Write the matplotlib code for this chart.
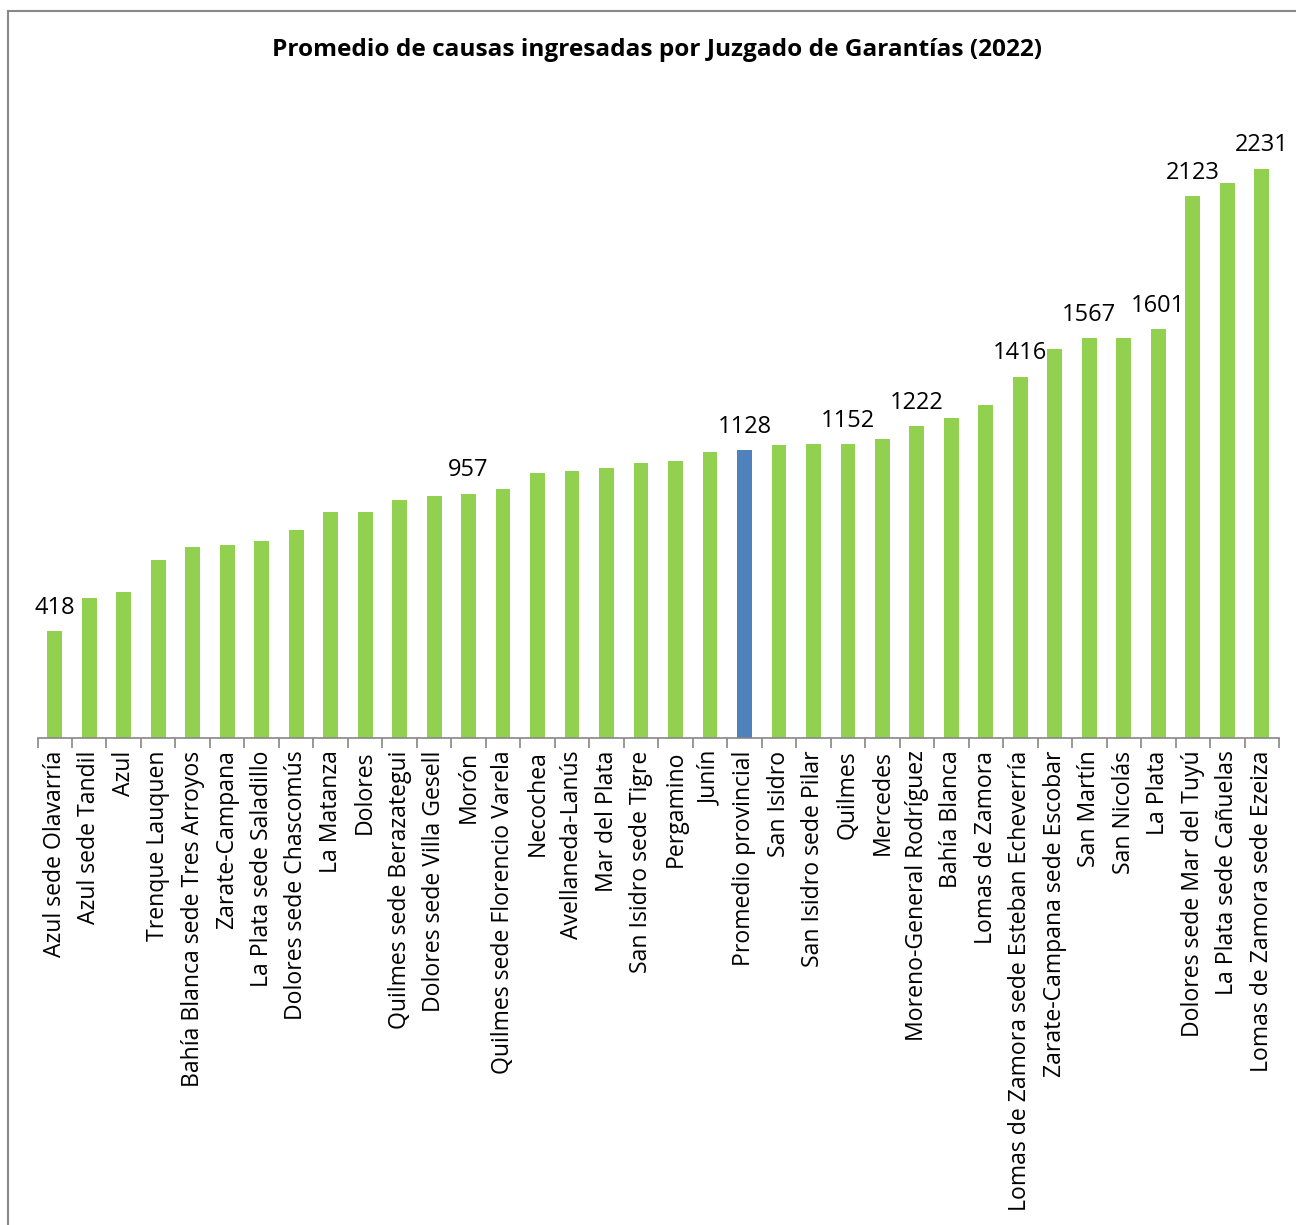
import numpy as np
import matplotlib.pyplot as plt
from matplotlib.patches import Rectangle

plt.rcParams['font.family'] = ['Open Sans', 'DejaVu Sans']

juzgados = [
    'Azul sede Olavarría', 'Azul sede Tandil', 'Azul', 'Trenque Lauquen',
    'Bahía Blanca sede Tres Arroyos', 'Zarate-Campana', 'La Plata sede Saladillo',
    'Dolores sede Chascomús', 'La Matanza', 'Dolores', 'Quilmes sede Berazategui',
    'Dolores sede Villa Gesell', 'Morón', 'Quilmes sede Florencio Varela',
    'Necochea', 'Avellaneda-Lanús', 'Mar del Plata', 'San Isidro sede Tigre',
    'Pergamino', 'Junín', 'Promedio provincial', 'San Isidro',
    'San Isidro sede Pilar', 'Quilmes', 'Mercedes', 'Moreno-General Rodríguez',
    'Bahía Blanca', 'Lomas de Zamora', 'Lomas de Zamora sede Esteban Echeverría',
    'Zarate-Campana sede Escobar', 'San Martín', 'San Nicolás', 'La Plata',
    'Dolores sede Mar del Tuyú', 'La Plata sede Cañuelas',
    'Lomas de Zamora sede Ezeiza',
]
causas = [
    418, 549, 573, 698, 749, 757, 773, 816, 886, 886, 933, 949, 957, 976,
    1039, 1047, 1059, 1078, 1086, 1122, 1128, 1149, 1153, 1152, 1173, 1222,
    1255, 1306, 1416, 1525, 1567, 1567, 1601, 2123, 2176, 2231,
]
# only these bars carry a value label in the original
etiquetados = ['Azul sede Olavarría', 'Morón', 'Promedio provincial', 'Quilmes',
               'Moreno-General Rodríguez', 'Lomas de Zamora sede Esteban Echeverría',
               'San Martín', 'La Plata', 'Dolores sede Mar del Tuyú',
               'Lomas de Zamora sede Ezeiza']

verde = '#92D050'
azul = '#4F81BD'
colores = [azul if j == 'Promedio provincial' else verde for j in juzgados]

fig = plt.figure(figsize=(12.96, 12.25), dpi=100)
ax = fig.add_axes([37.5 / 1296, 1 - 738 / 1225, (1279 - 37.5) / 1296, (738 - 100) / 1225])

x = np.arange(len(juzgados))
ax.bar(x, causas, width=0.43, color=colores)

for i, (j, v) in enumerate(zip(juzgados, causas)):
    if j in etiquetados:
        ax.text(i, v + 45, str(v), ha='center', va='bottom', fontsize=17)

ax.set_xlim(-0.5, len(juzgados) - 0.5)
ax.set_ylim(0, 2500)
ax.set_yticks([])
for s in ['top', 'right', 'left']:
    ax.spines[s].set_visible(False)
ax.spines['bottom'].set_color('#868686')
ax.spines['bottom'].set_linewidth(1.2)

ax.set_xticks(x)
ax.set_xticklabels(juzgados, rotation=90, fontsize=16.6)
ax.tick_params(axis='x', length=0, pad=9)
ax.set_xticks(np.arange(len(juzgados) + 1) - 0.5, minor=True)
ax.tick_params(axis='x', which='minor', length=7, color='#868686', width=1.2)

fig.text(657 / 1296, 1 - 50 / 1225, 'Promedio de causas ingresadas por Juzgado de Garantías (2022)',
         ha='center', va='center', fontsize=17.6, fontweight='bold')

fig.patches.append(Rectangle((8 / 1296, -0.05), 1.1, 1 - 11 / 1225 + 0.05,
                             transform=fig.transFigure, fill=False,
                             edgecolor='#888888', linewidth=1.5))

fig.savefig('out.png', dpi=100)
